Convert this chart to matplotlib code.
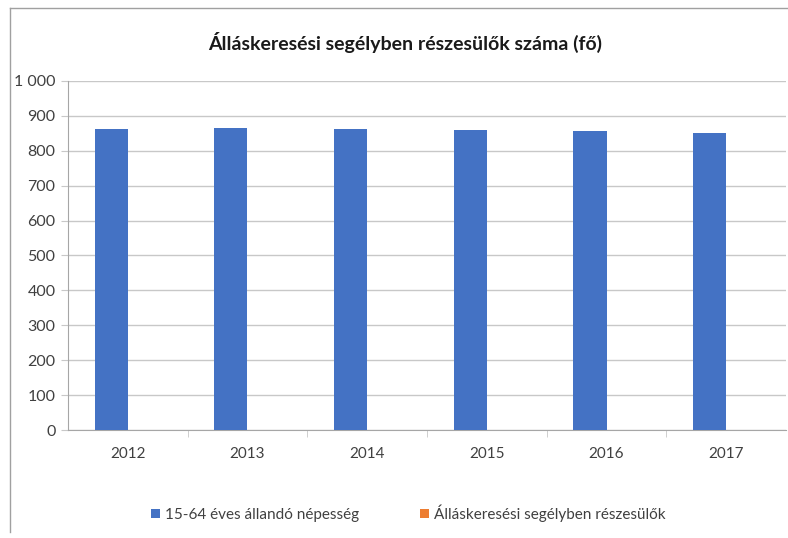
import matplotlib.pyplot as plt
import numpy as np
from matplotlib.lines import Line2D
from matplotlib.ticker import FuncFormatter

plt.rcParams['font.family'] = ['Lato', 'DejaVu Sans']

# Data
years = ['2012', '2013', '2014', '2015', '2016', '2017']
population = [863, 866, 863, 860, 857, 851]      # 15-64 éves állandó népesség
recipients = [0, 0, 0, 0, 0, 0]                  # Álláskeresési segélyben részesülők (not visible)

blue = '#4472C4'
orange = '#ED7D31'
grid_col = '#c8c8c8'
text_col = '#404040'

fig = plt.figure(figsize=(7.88, 5.38), dpi=100)
ax = fig.add_axes([68 / 788, 108 / 538, 718 / 788, 349 / 538])

x = np.arange(len(years))
w = 0.276
ax.bar(x - w / 2, population, width=w, color=blue, label='15-64 éves állandó népesség', zorder=3)
ax.bar(x + w / 2, recipients, width=w, color=orange, label='Álláskeresési segélyben részesülők', zorder=3)

ax.set_xlim(-0.5, len(years) - 0.5)
ax.set_ylim(0, 1000)
ax.set_yticks(np.arange(0, 1001, 100))
ax.yaxis.set_major_formatter(FuncFormatter(lambda v, p: f'{int(v):,}'.replace(',', ' ')))
ax.grid(axis='y', color=grid_col, linewidth=1, zorder=0)

ax.set_xticks(x)
ax.set_xticklabels(years)
ax.set_xticks(np.arange(0.5, len(years) - 0.5, 1), minor=True)
ax.tick_params(axis='x', which='major', length=0, pad=12, labelsize=11, labelcolor=text_col)
ax.tick_params(axis='x', which='minor', length=5, color=grid_col)
ax.tick_params(axis='y', length=5, color=grid_col, labelsize=11.5, labelcolor=text_col, pad=4)

for s in ['top', 'right']:
    ax.spines[s].set_visible(False)
for s in ['left', 'bottom']:
    ax.spines[s].set_color('#a6a6a6')

fig.text(405 / 788, 1 - 42 / 538, 'Álláskeresési segélyben részesülők száma (fő)',
         ha='center', va='center', fontsize=14, fontweight='bold', color='#1a1a1a')

leg = fig.legend(loc='center', bbox_to_anchor=(408 / 788, 1 - 513 / 538), ncol=2, frameon=False,
                 fontsize=11, handlelength=0.6, handleheight=0.6, handletextpad=0.3,
                 columnspacing=4.0, labelcolor=text_col)

# outer frame lines (left and top)
fig.add_artist(Line2D([10 / 788, 10 / 788], [1 - 8 / 538, 1 - 532 / 538], color='#a0a0a0', linewidth=1))
fig.add_artist(Line2D([10 / 788, 1], [1 - 8 / 538, 1 - 8 / 538], color='#a0a0a0', linewidth=1))

fig.savefig('out.png', dpi=100)
